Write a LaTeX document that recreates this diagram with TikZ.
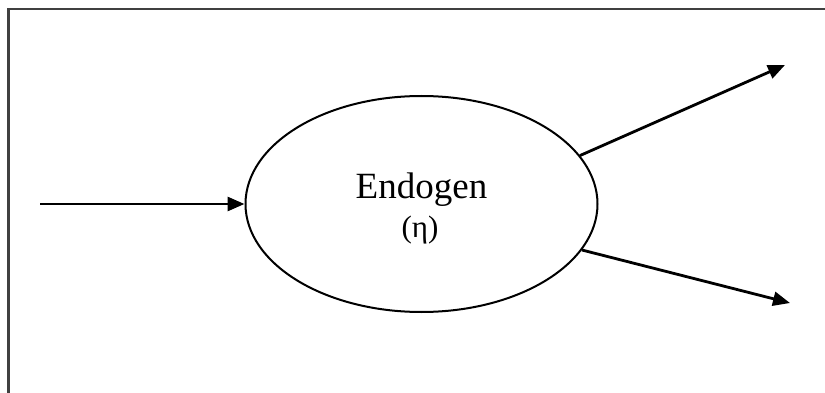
\documentclass[tikz,border=0pt]{standalone}
\usepackage{fontspec}
\setmainfont{Liberation Serif}
\usetikzlibrary{arrows.meta,shapes.geometric}
\begin{document}
\begin{tikzpicture}[x=1pt,y=-1pt,
    link/.style={line width=2.8pt,-{Triangle[length=17pt,width=14pt]}},
    frameline/.style={black!75,line width=2.2pt}]
  \useasboundingbox (0,0) rectangle (825,393);
  \coordinate (F1) at (8.5,393);
  \coordinate (F2) at (825,9);
  \draw[frameline] (F1) |- (F2);
  \node[draw,ellipse,line width=2pt,minimum width=352pt,minimum height=216pt,inner sep=0pt] (endo) at (421.5,204) {};
  \node[anchor=base,font=\fontsize{37}{40}\selectfont] (name) at (421.5,199) {Endogen};
  \node[anchor=base,font=\fontsize{31}{34}\selectfont] (sym) at (420,237) {(η)};
  \coordinate (in) at (40,204);
  \coordinate (out1) at (785,65);
  \coordinate (out2) at (790,303);
  \draw[link] (in) -- (endo.west);
  \draw[link] (endo.17) -- (out1);
  \draw[link] (endo.-16) -- (out2);
\end{tikzpicture}
\end{document}
